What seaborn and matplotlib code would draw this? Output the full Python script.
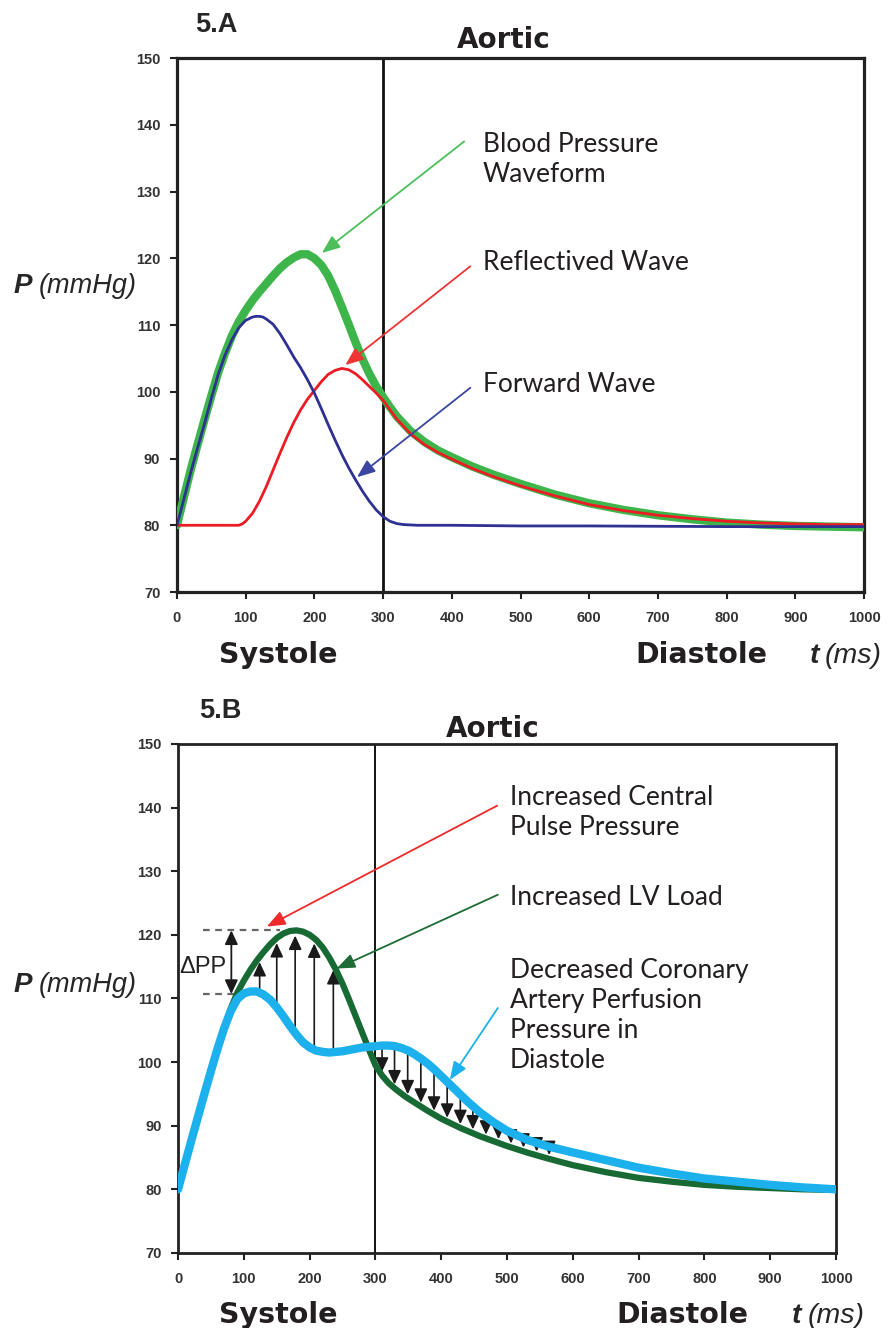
import numpy as np
import seaborn as sns
import matplotlib.pyplot as plt

# ---- data ----
# 5.A  aortic pressure: forward, reflected and total waveform
fwd_t = [0, 10, 20, 30, 40, 50, 60, 70, 80, 90, 100, 110, 115, 120, 125, 130, 140, 150, 160,
         170, 180, 190, 200, 210, 220, 230, 240, 250, 260, 270, 280, 290, 300, 310, 320, 330,
         350, 400, 500, 600, 700, 800, 900, 1000]
fwd_p = [80, 83.9, 87.9, 91.6, 95.2, 99.0, 102.6, 105.5, 107.8, 109.6, 110.7, 111.2, 111.3,
         111.3, 111.2, 110.9, 110.1, 108.7, 107.0, 105.2, 103.6, 101.8, 99.8, 97.5, 95.1,
         92.8, 90.6, 88.6, 86.8, 85.1, 83.6, 82.3, 81.3, 80.6, 80.25, 80.1, 80.0, 80.0, 79.9,
         79.9, 79.85, 79.8, 79.8, 79.8]

ref_t = [0, 90, 95, 100, 110, 120, 130, 140, 150, 160, 170, 180, 190, 200, 210, 220, 230,
         240, 250, 260, 270, 280, 290, 300, 310, 320, 340, 360, 380, 400, 430, 460, 500,
         550, 600, 650, 700, 750, 800, 850, 900, 950, 1000]
ref_p = [80, 80, 80.2, 80.6, 81.8, 83.6, 85.8, 88.3, 90.8, 93.2, 95.4, 97.3, 98.9, 100.2,
         101.5, 102.6, 103.2, 103.5, 103.3, 102.7, 101.8, 100.8, 99.8, 98.7, 97.3, 95.9,
         93.7, 92.1, 90.9, 89.9, 88.5, 87.3, 85.9, 84.4, 83.1, 82.2, 81.5, 81.0, 80.6,
         80.35, 80.2, 80.1, 80.1]

bp_t = [0, 10, 20, 30, 40, 50, 60, 70, 80, 90, 100, 110, 120, 130, 140, 150, 160, 170, 180,
        190, 200, 210, 220, 230, 240, 250, 260, 270, 280, 290, 300, 310, 320, 340, 360,
        380, 400, 430, 460, 500, 550, 600, 650, 700, 750, 800, 850, 900, 950, 1000]
bp_p = [80, 84.2, 88.3, 92.1, 95.8, 99.4, 102.9, 105.8, 108.4, 110.5, 112.2, 113.7, 115.0,
        116.2, 117.4, 118.5, 119.4, 120.1, 120.6, 120.6, 120.0, 119.0, 117.4, 115.2, 112.7,
        110.1, 107.4, 104.9, 102.7, 100.8, 99.2, 97.7, 96.3, 94.1, 92.5, 91.2, 90.2, 88.8,
        87.6, 86.2, 84.6, 83.3, 82.3, 81.5, 80.9, 80.4, 80.1, 79.9, 79.8, 79.7]

# 5.B  normal (light blue) vs stiff (dark green) waveform
cy_t = [0, 10, 20, 30, 40, 50, 60, 70, 80, 90, 100, 110, 120, 130, 140, 150, 160, 170, 180,
        190, 200, 210, 220, 230, 240, 250, 260, 270, 280, 290, 300, 310, 320, 330, 340, 350,
        360, 370, 380, 390, 400, 410, 420, 430, 440, 460, 480, 500, 530, 560, 600, 650, 700,
        750, 800, 850, 900, 950, 1000]
cy_p = [80, 83.8, 87.6, 91.3, 95.0, 98.6, 102.1, 105.3, 108.0, 109.9, 110.8, 111.1, 111.1,
        110.6, 109.8, 108.6, 107.2, 105.7, 104.3, 103.1, 102.3, 101.8, 101.6, 101.5, 101.6,
        101.7, 101.9, 102.1, 102.3, 102.4, 102.5, 102.6, 102.6, 102.5, 102.2, 101.8, 101.2,
        100.5, 99.7, 98.8, 97.8, 96.8, 95.8, 94.8, 93.8, 92.0, 90.5, 89.2, 87.8, 86.8, 85.8,
        84.6, 83.4, 82.5, 81.7, 81.2, 80.7, 80.3, 80.0]

lv_t = [0, 10, 20, 30, 40, 50, 60, 70, 80, 90, 100, 110, 120, 130, 140, 150, 160, 170, 180,
        190, 200, 210, 220, 230, 240, 250, 260, 270, 280, 290, 300, 310, 320, 330, 345, 360,
        380, 400, 430, 460, 500, 530, 560, 600, 650, 700, 750, 800, 850, 900, 950, 1000]
lv_p = [80, 83.8, 87.6, 91.3, 95.0, 98.6, 102.1, 105.4, 108.4, 110.9, 112.8, 114.5, 116.0,
        117.3, 118.5, 119.5, 120.2, 120.6, 120.7, 120.5, 120.0, 119.2, 118.0, 116.4, 114.5,
        112.3, 109.8, 107.2, 104.6, 102.0, 99.5, 97.9, 96.7, 95.8, 94.6, 93.6, 92.3, 91.1,
        89.6, 88.3, 86.8, 85.8, 84.9, 83.8, 82.7, 81.8, 81.2, 80.7, 80.4, 80.2, 80.0, 79.9]

up_t = [124, 150, 178, 207, 236]
down_t = [310, 329, 349, 369, 389, 409, 429, 448, 468, 487, 506, 525, 545, 564]

notes_a = ["Blood Pressure", "Waveform", "Reflectived Wave", "Forward Wave"]
notes_b = ["Increased Central", "Pulse Pressure", "Increased LV Load",
           "Decreased Coronary", "Artery Perfusion", "Pressure in", "Diastole"]
x_ticks = list(range(0, 1001, 100))
y_ticks = list(range(70, 151, 10))

# ---- style ----
sns.set_theme(style="white")
plt.rcParams["font.family"] = ["DejaVu Sans"]
INK = "#231f20"
ARIAL = ["Liberation Sans", "DejaVu Sans"]
TICKFONT = dict(family=ARIAL, weight="bold", size=10.5, color="#333333")
NOTEFONT = dict(family=["Lato", "DejaVu Sans"], size=19, color=INK)

fig = plt.figure(figsize=(8.88, 13.28), dpi=100)
ax_a = fig.add_axes([0.1993, 0.5542, 0.7737, 0.4021])
ax_b = fig.add_axes([0.2005, 0.0565, 0.7410, 0.3833])


def frame(ax, spine_w):
    ax.set_xlim(0, 1000)
    ax.set_ylim(70, 150)
    ax.set_xticks(x_ticks)
    ax.set_yticks(y_ticks)
    ax.set_xticklabels([str(v) for v in x_ticks], **TICKFONT)
    ax.set_yticklabels([str(v) for v in y_ticks], **TICKFONT)
    ax.tick_params(axis="both", direction="out", length=5, width=1.5, color="#222222",
                   left=True, bottom=True)
    ax.tick_params(axis="x", pad=8.5)
    ax.tick_params(axis="y", pad=7)
    for s in ax.spines.values():
        s.set_visible(True)
        s.set_color("#222222")
        s.set_linewidth(spine_w)
    ax.grid(False)
    ax.set_xlabel("")
    ax.set_ylabel("")


def pointer(ax, start, tip, color, lw=1.3, scale=22):
    ax.annotate("", xy=tip, xytext=start,
                arrowprops=dict(arrowstyle="-|>,head_length=0.5,head_width=0.2",
                                color=color, lw=lw, mutation_scale=scale,
                                shrinkA=0, shrinkB=0), zorder=6)


# ---- 5.A ----
sns.lineplot(x=bp_t, y=bp_p, ax=ax_a, color="#3db54a", linewidth=6,
             estimator=None, sort=False, zorder=3)
sns.lineplot(x=ref_t, y=ref_p, ax=ax_a, color="#ed1c24", linewidth=2.0,
             estimator=None, sort=False, zorder=4)
sns.lineplot(x=fwd_t, y=fwd_p, ax=ax_a, color="#2e3192", linewidth=2.0,
             estimator=None, sort=False, zorder=5)
ax_a.axvline(300, color="#111111", lw=2.0, zorder=2)
frame(ax_a, 2.3)

pointer(ax_a, (418, 137.5), (211, 120.8), "#4cbf5a")
pointer(ax_a, (427, 118.8), (245, 104.0), "#ee3333")
pointer(ax_a, (427, 100.6), (262, 87.2), "#3a46a0")

a_y = [135.97, 131.36, 118.28, 100.03]
for txt, y in zip(notes_a, a_y):
    ax_a.text(445, y, txt, ha="left", va="baseline", **NOTEFONT)

# ---- 5.B ----
VARROW = dict(arrowstyle="-|>,head_length=0.6,head_width=0.28", color="#1a1a1a", lw=1.2,
              mutation_scale=14, shrinkA=0, shrinkB=0)
for t in up_t:
    lo = np.interp(t, cy_t, cy_p)
    hi = np.interp(t, lv_t, lv_p)
    ax_b.annotate("", xy=(t, hi - 0.8), xytext=(t, lo), arrowprops=VARROW, zorder=2)
for t in down_t:
    hi = np.interp(t, cy_t, cy_p)
    lo = np.interp(t, lv_t, lv_p)
    ax_b.annotate("", xy=(t, lo + 0.6), xytext=(t, hi), arrowprops=VARROW, zorder=2)

sns.lineplot(x=lv_t, y=lv_p, ax=ax_b, color="#186a35", linewidth=4.5,
             estimator=None, sort=False, zorder=3)
sns.lineplot(x=cy_t, y=cy_p, ax=ax_b, color="#1cb0ec", linewidth=6,
             estimator=None, sort=False, zorder=4)
ax_b.axvline(300, color="#111111", lw=1.4, zorder=1)
frame(ax_b, 2.0)

# delta PP bracket
pp_hi = max(lv_p)
pp_lo = max(cy_p)
ax_b.plot([38, 155], [pp_hi, pp_hi], color="#666666", lw=1.6, ls=(0, (3, 2.5)), zorder=2)
ax_b.plot([38, 87], [pp_lo - 0.4, pp_lo - 0.4], color="#666666", lw=1.6, ls=(0, (3, 2.5)),
          zorder=2)
ax_b.annotate("", xy=(81, pp_hi), xytext=(81, pp_lo - 0.4),
              arrowprops=dict(VARROW, arrowstyle="<|-|>,head_length=0.6,head_width=0.28",
                              lw=1.3), zorder=2)
ax_b.text(2.5, 114.0, "\u0394PP", ha="left", va="baseline", family=ARIAL, size=17,
          color="#222222")

pointer(ax_b, (485, 140.3), (135, 121.3), "#ee2a2a")
pointer(ax_b, (486, 126.3), (241, 114.7), "#1d6b35")
pointer(ax_b, (486, 108.5), (413, 97.2), "#1cb0ec")

b_y = [140.42, 135.7, 124.7, 113.18, 108.46, 103.74, 99.03]
for txt, y in zip(notes_b, b_y):
    ax_b.text(504, y, txt, ha="left", va="baseline", **NOTEFONT)

# ---- titles and axis words ----
BOLD = dict(family=["DejaVu Sans"], weight="bold", color=INK)
ax_a.text(476, 1.018, "Aortic", transform=ax_a.get_xaxis_transform(),
          ha="center", va="baseline", size=20, **BOLD)
ax_b.text(478, 1.014, "Aortic", transform=ax_b.get_xaxis_transform(),
          ha="center", va="baseline", size=20, **BOLD)

fig.text(0.2196, 0.9761, "5.A", family=ARIAL, weight="bold", size=19.5, va="baseline")
fig.text(0.2241, 0.4591, "5.B", family=ARIAL, weight="bold", size=19.5, va="baseline")

for yb in (0.7791, 0.2532):
    fig.text(0.015, yb, "P", family=ARIAL, weight="bold", style="italic", size=20,
             va="baseline")
    fig.text(0.044, yb, "(mmHg)", family=ARIAL, style="italic", size=19.5, va="baseline")

for yb, xs, xd, xt, xm in ((0.5008, 0.2462, 0.7151, 0.9122, 0.9290),
                           (0.0040, 0.2462, 0.6937, 0.8919, 0.9099)):
    fig.text(xs, yb, "Systole", size=20.5, va="baseline", **BOLD)
    fig.text(xd, yb, "Diastole", size=20.5, va="baseline", **BOLD)
    fig.text(xt, yb, "t", family=ARIAL, weight="bold", style="italic", size=20.5,
             va="baseline")
    fig.text(xm, yb, "(ms)", family=ARIAL, style="italic", size=20.5, va="baseline")

fig.savefig("out.png", dpi=100, facecolor="white")
